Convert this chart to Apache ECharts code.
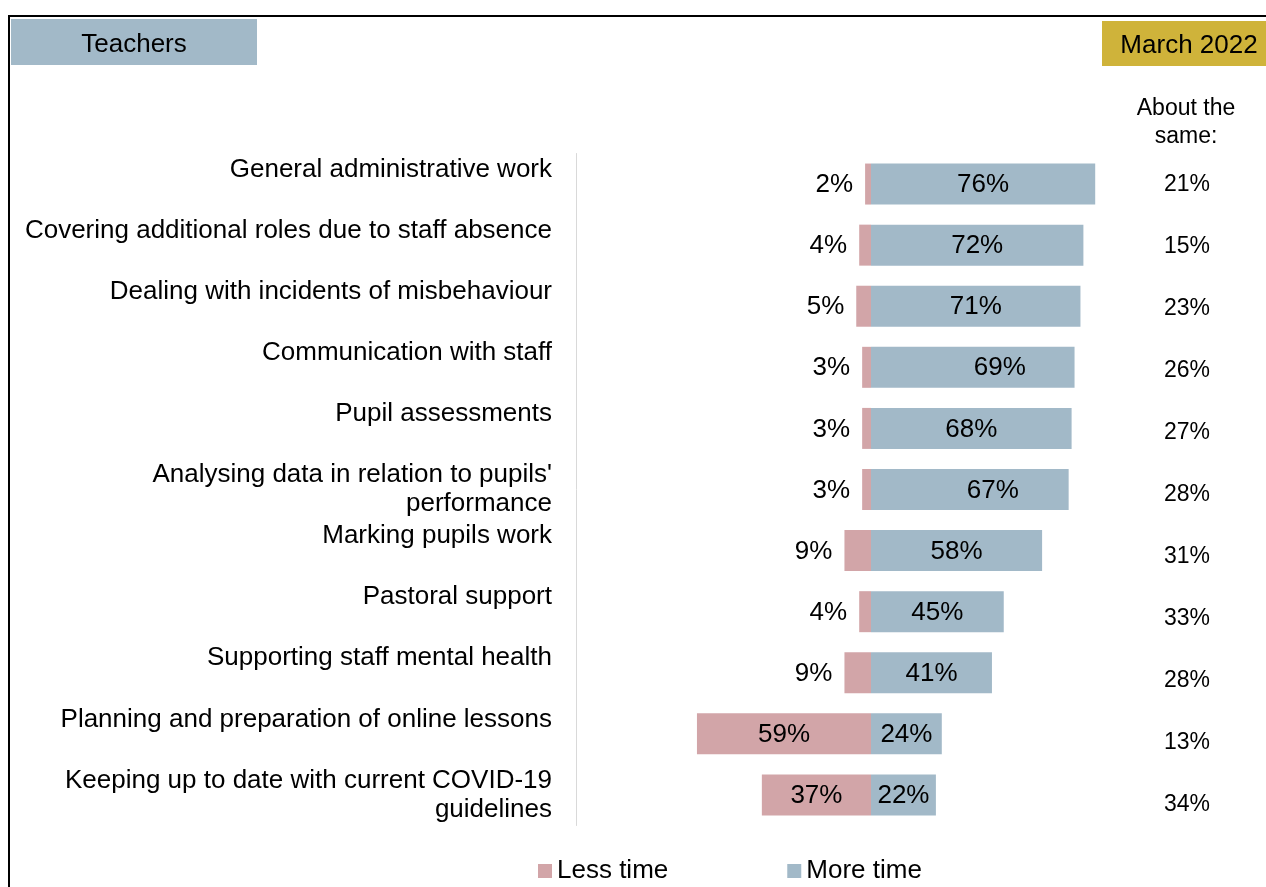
<!DOCTYPE html>
<html>
<head>
<meta charset="utf-8">
<script src="https://cdn.jsdelivr.net/npm/echarts@6/dist/echarts.min.js"></script>
<style>
  html, body { margin: 0; padding: 0; background: #fff; }
  #chart { width: 1266px; height: 887px; }
</style>
</head>
<body>
<div id="chart"></div>
<script>
// Teachers: change in time spent on tasks, March 2022
const categories = [
  'General administrative work',
  'Covering additional roles due to staff absence',
  'Dealing with incidents of misbehaviour',
  'Communication with staff',
  'Pupil assessments',
  "Analysing data in relation to pupils'\nperformance",
  'Marking pupils work',
  'Pastoral support',
  'Supporting staff mental health',
  'Planning and preparation of online lessons',
  'Keeping up to date with current COVID-19\nguidelines'
];
const lessTime = [2, 4, 5, 3, 3, 3, 9, 4, 9, 59, 37];
const moreTime = [76, 72, 71, 69, 68, 67, 58, 45, 41, 24, 22];
const aboutSame = [21, 15, 23, 26, 27, 28, 31, 33, 28, 13, 34];

const FONT = '"Liberation Sans", Arial, sans-serif';
const PINK = '#D2A5A8';
const BLUE = '#A2B9C8';
const GOLD = '#CFB33A';

// a few value labels sit off-centre inside their bars
const moreLabelShift = { 3: 27, 5: 23 };

const chart = echarts.init(document.getElementById('chart'));

const lessData = lessTime.map(v => {
  const inside = v > 20;
  return {
    value: -v,
    label: inside
      ? { position: 'inside', offset: [0, 1] }
      : { position: 'left', distance: 12, offset: [0, 1] }
  };
});

const moreData = moreTime.map((v, i) => ({
  value: v,
  label: { position: 'inside', offset: [moreLabelShift[i] || 0, 1] }
}));

chart.setOption({
  animation: false,
  textStyle: { fontFamily: FONT },
  grid: [
    { left: 576, width: 590, top: 153.5, height: 672 },
    { left: 1187, width: 1, top: 154, height: 682 }
  ],
  xAxis: [
    { type: 'value', gridIndex: 0, min: -100, max: 100, show: false },
    { type: 'value', gridIndex: 1, min: 0, max: 1, show: false }
  ],
  yAxis: [
    {
      type: 'category',
      gridIndex: 0,
      data: categories,
      inverse: true,
      axisLine: { show: true, onZero: false, lineStyle: { color: '#D9D9D9', width: 1 } },
      axisTick: { show: false },
      axisLabel: {
        margin: 24,
        color: '#000',
        fontSize: 26,
        lineHeight: 29,
        fontFamily: FONT,
        formatter: s => (s.indexOf('\n') >= 0 ? s : s + '\n ')
      }
    },
    {
      type: 'category',
      gridIndex: 1,
      data: aboutSame.map(v => v + '%'),
      inverse: true,
      axisLine: { show: false },
      axisTick: { show: false },
      axisLabel: {
        margin: 0,
        align: 'center',
        color: '#000',
        fontSize: 23,
        fontFamily: FONT
      }
    }
  ],
  legend: {
    left: 533,
    top: 853,
    itemWidth: 14,
    itemHeight: 14,
    itemGap: 119,
    icon: 'rect',
    textStyle: { fontSize: 26, color: '#000', fontFamily: FONT },
    data: ['Less time', 'More time']
  },
  series: [
    {
      name: 'Less time',
      type: 'bar',
      stack: 'time',
      xAxisIndex: 0,
      yAxisIndex: 0,
      barWidth: 41,
      itemStyle: { color: PINK },
      label: {
        show: true,
        color: '#000',
        fontSize: 26,
        fontFamily: FONT,
        formatter: p => Math.abs(p.value) + '%'
      },
      data: lessData
    },
    {
      name: 'More time',
      type: 'bar',
      stack: 'time',
      xAxisIndex: 0,
      yAxisIndex: 0,
      barWidth: 41,
      itemStyle: { color: BLUE },
      label: {
        show: true,
        color: '#000',
        fontSize: 26,
        fontFamily: FONT,
        formatter: p => p.value + '%'
      },
      data: moreData
    }
  ],
  graphic: [
    {
      type: 'rect',
      shape: { x: 9, y: 16, width: 1400, height: 1000 },
      style: { fill: 'none', stroke: '#000', lineWidth: 2 },
      silent: true
    },
    {
      type: 'rect',
      shape: { x: 11, y: 19, width: 246, height: 46 },
      style: { fill: BLUE }
    },
    {
      type: 'text',
      x: 134, y: 45,
      style: { text: 'Teachers', font: '26px ' + FONT, fill: '#000', align: 'center', verticalAlign: 'middle' }
    },
    {
      type: 'rect',
      shape: { x: 1102, y: 21, width: 164, height: 45 },
      style: { fill: GOLD }
    },
    {
      type: 'text',
      x: 1189, y: 46,
      style: { text: 'March 2022', font: '26px ' + FONT, fill: '#000', align: 'center', verticalAlign: 'middle' }
    },
    {
      type: 'text',
      x: 1186, y: 123,
      style: { text: 'About the\nsame:', font: '23px ' + FONT, lineHeight: 28, fill: '#000', align: 'center', verticalAlign: 'middle' }
    }
  ]
});
</script>
</body>
</html>
